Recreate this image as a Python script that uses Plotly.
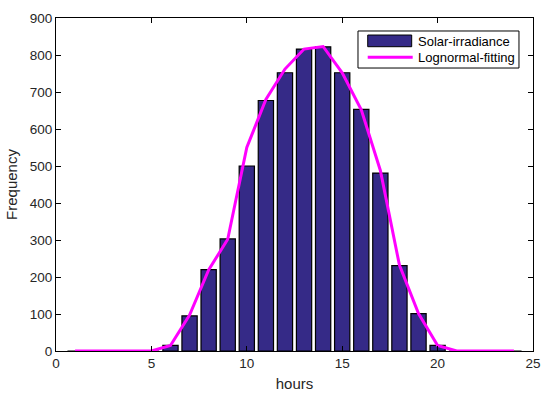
import plotly.graph_objects as go

hours = list(range(1, 25))
frequency = [0, 0, 0, 0, 0, 15, 95, 220, 303, 500, 677, 752, 816, 822, 752, 653, 481, 231, 101, 15, 0, 0, 0, 0]
lognormal_fit = [0, 0, 0, 0, 0, 15, 97, 219, 302, 550, 680, 762, 816, 823, 752, 652, 488, 232, 101, 15, 0, 0, 0, 0]

series_names = ["Solar-irradiance", "Lognormal-fitting"]
x_ticks = [0, 5, 10, 15, 20, 25]
y_ticks = list(range(0, 901, 100))

FONT = "Liberation Sans, Arial"
BAR_COLOR = "#352A87"
LINE_COLOR = "#FF00FF"

fig = go.Figure()
fig.add_trace(go.Bar(
    x=hours, y=frequency, width=0.8, name=series_names[0], showlegend=False,
    marker=dict(color=BAR_COLOR, line=dict(color="black", width=1.2)),
))
fig.add_trace(go.Scatter(
    x=hours, y=lognormal_fit, mode="lines", name=series_names[1], showlegend=False,
    line=dict(color=LINE_COLOR, width=3),
))

axis_common = dict(
    showline=True, linecolor="black", linewidth=1, mirror="ticks",
    ticks="inside", ticklen=5, tickcolor="black", showgrid=False, zeroline=False,
    automargin=False,
    tickfont=dict(family=FONT, size=13.5, color="#262626"),
)

# Legend drawn in paper coordinates (box, patch, line sample and labels)
legend_shapes = [
    dict(type="rect", xref="paper", yref="paper", x0=0.6331, x1=0.9706, y0=0.8498, y1=0.9610,
         fillcolor="white", line=dict(color="black", width=1), layer="above"),
    dict(type="rect", xref="paper", yref="paper", x0=0.6535, x1=0.7457, y0=0.9138, y1=0.9489,
         fillcolor=BAR_COLOR, line=dict(color="black", width=1), layer="above"),
    dict(type="line", xref="paper", yref="paper", x0=0.6535, x1=0.7478, y0=0.8820, y1=0.8820,
         line=dict(color=LINE_COLOR, width=3), layer="above"),
]
legend_labels = [
    dict(text=series_names[0], xref="paper", yref="paper", x=0.7547, y=0.9298,
         xanchor="left", yanchor="middle", showarrow=False,
         font=dict(family=FONT, size=13, color="black")),
    dict(text=series_names[1], xref="paper", yref="paper", x=0.7547, y=0.8814,
         xanchor="left", yanchor="middle", showarrow=False,
         font=dict(family=FONT, size=13, color="black")),
]

fig.update_layout(
    width=550, height=398,
    margin=dict(l=56, r=17, t=18, b=47, autoexpand=False),
    plot_bgcolor="white", paper_bgcolor="white",
    bargap=0.2,
    xaxis=dict(range=[0, 25], tickvals=x_ticks,
               title=dict(text="hours", standoff=8,
                          font=dict(family=FONT, size=15, color="#262626")),
               **axis_common),
    yaxis=dict(range=[0, 900], tickvals=y_ticks,
               title=dict(text="Frequency", standoff=8,
                          font=dict(family=FONT, size=15, color="#262626")),
               **axis_common),
    shapes=legend_shapes,
    annotations=legend_labels,
    showlegend=False,
)

fig.write_html("out.html",
               config={"displayModeBar": False},
               post_script="document.body.style.margin='0';document.body.style.overflow='hidden';")
